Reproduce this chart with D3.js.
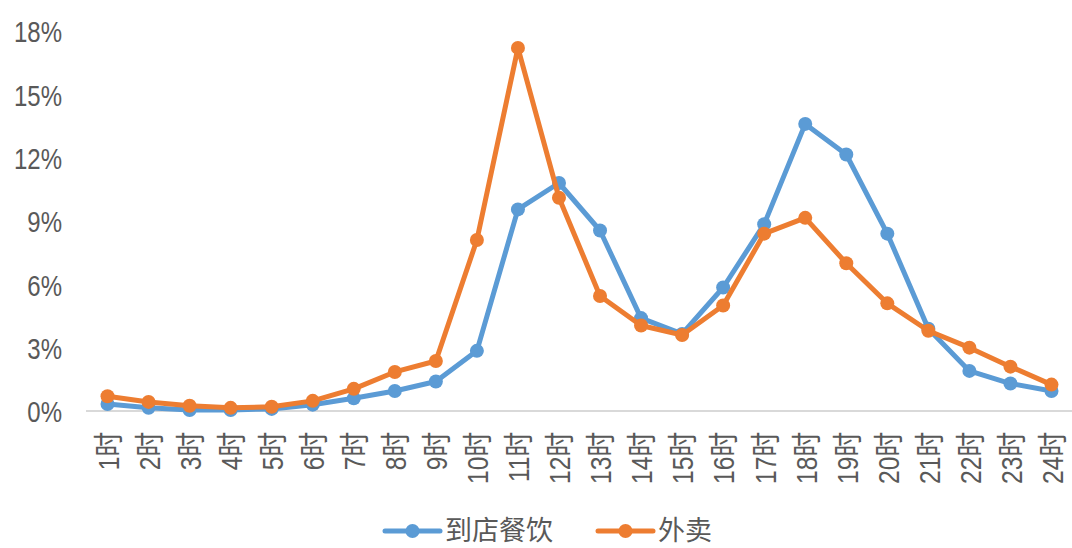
<!DOCTYPE html>
<html>
<head>
<meta charset="utf-8">
<script src="https://cdn.jsdelivr.net/npm/d3@7"></script>
<style>
  body { margin: 0; background: #fff; }
  text { font-family: "Liberation Sans Narrow", "Liberation Sans", "Noto Sans CJK SC", sans-serif; fill: #595959; }
</style>
</head>
<body>
<svg id="chart" width="1072" height="548"></svg>
<script>
// hours on the x axis
var hours = ["1时","2时","3时","4时","5时","6时","7时","8时","9时","10时","11时","12时",
             "13时","14时","15时","16时","17时","18时","19时","20时","21时","22时","23时","24时"];
// 到店餐饮 share per hour (%)
var dineIn = [0.33,0.15,0.05,0.05,0.1,0.3,0.6,0.95,1.4,2.85,9.55,10.8,
              8.55,4.4,3.65,5.85,8.85,13.6,12.15,8.4,3.9,1.9,1.3,0.95];
// 外卖 share per hour (%)
var takeout = [0.7,0.43,0.25,0.15,0.2,0.48,1.05,1.85,2.37,8.1,17.2,10.1,
               5.45,4.05,3.6,5.0,8.4,9.15,7.0,5.1,3.8,3.0,2.1,1.25];
var yTicks = [0,3,6,9,12,15,18];
var seriesNames = ["到店餐饮","外卖"];
var colors = ["#5b9bd5","#ed7d31"];

var svg = d3.select("#chart");

var x = d3.scalePoint().domain(hours).range([87, 1072]).padding(0.5);
var y = d3.scaleLinear().domain([0, 18]).range([411, 31]);

// y axis labels (narrow look: squeeze horizontally)
var yAxis = svg.append("g")
  .attr("transform", "translate(62,0)")
  .call(d3.axisLeft(y).tickValues(yTicks).tickSize(0).tickPadding(0).tickFormat(function(d){ return d + "%"; }));
yAxis.select(".domain").remove();
yAxis.selectAll("text")
  .style("font-size", "30px")
  .attr("fill", "#595959")
  .attr("dy", "0.36em")
  .attr("transform", "scale(0.8,1)");

// baseline
svg.append("line")
  .attr("x1", 86).attr("x2", 1072)
  .attr("y1", y(0)).attr("y2", y(0))
  .attr("stroke", "#d9d9d9").attr("stroke-width", 2);

// x axis labels, rotated
var xAxis = svg.append("g")
  .attr("transform", "translate(0," + y(0) + ")")
  .call(d3.axisBottom(x).tickSize(0).tickPadding(0));
xAxis.select(".domain").remove();
xAxis.selectAll("text")
  .style("font-size", "30px")
  .attr("fill", "#595959")
  .attr("text-anchor", "end")
  .attr("dy", "0.36em")
  .attr("transform", "translate(0,21) rotate(-90) scale(0.82,1)")
  .attr("x", 0).attr("y", 0);

var line = d3.line()
  .x(function(d, i){ return x(hours[i]); })
  .y(function(d){ return y(d); });

[dineIn, takeout].forEach(function(vals, k) {
  var g = svg.append("g");
  g.append("path")
    .datum(vals)
    .attr("d", line)
    .attr("fill", "none")
    .attr("stroke", colors[k])
    .attr("stroke-width", 5)
    .attr("stroke-linejoin", "round");
  g.selectAll("circle").data(vals).enter().append("circle")
    .attr("cx", function(d, i){ return x(hours[i]); })
    .attr("cy", function(d){ return y(d); })
    .attr("r", 7)
    .attr("fill", colors[k]);
});

// legend
var legendX = [385, 598];
seriesNames.forEach(function(name, k) {
  var lg = svg.append("g").attr("transform", "translate(" + legendX[k] + ",531)");
  lg.append("line").attr("x1", 0).attr("x2", 55).attr("y1", 0).attr("y2", 0)
    .attr("stroke", colors[k]).attr("stroke-width", 5).attr("stroke-linecap", "round");
  lg.append("circle").attr("cx", 27.5).attr("cy", 0).attr("r", 7).attr("fill", colors[k]);
  lg.append("text").attr("x", 60).attr("y", 0).attr("dy", "0.34em")
    .style("font-size", "27px")
    .style("font-family", "'Noto Sans CJK SC', sans-serif")
    .text(name);
});
</script>
</body>
</html>
